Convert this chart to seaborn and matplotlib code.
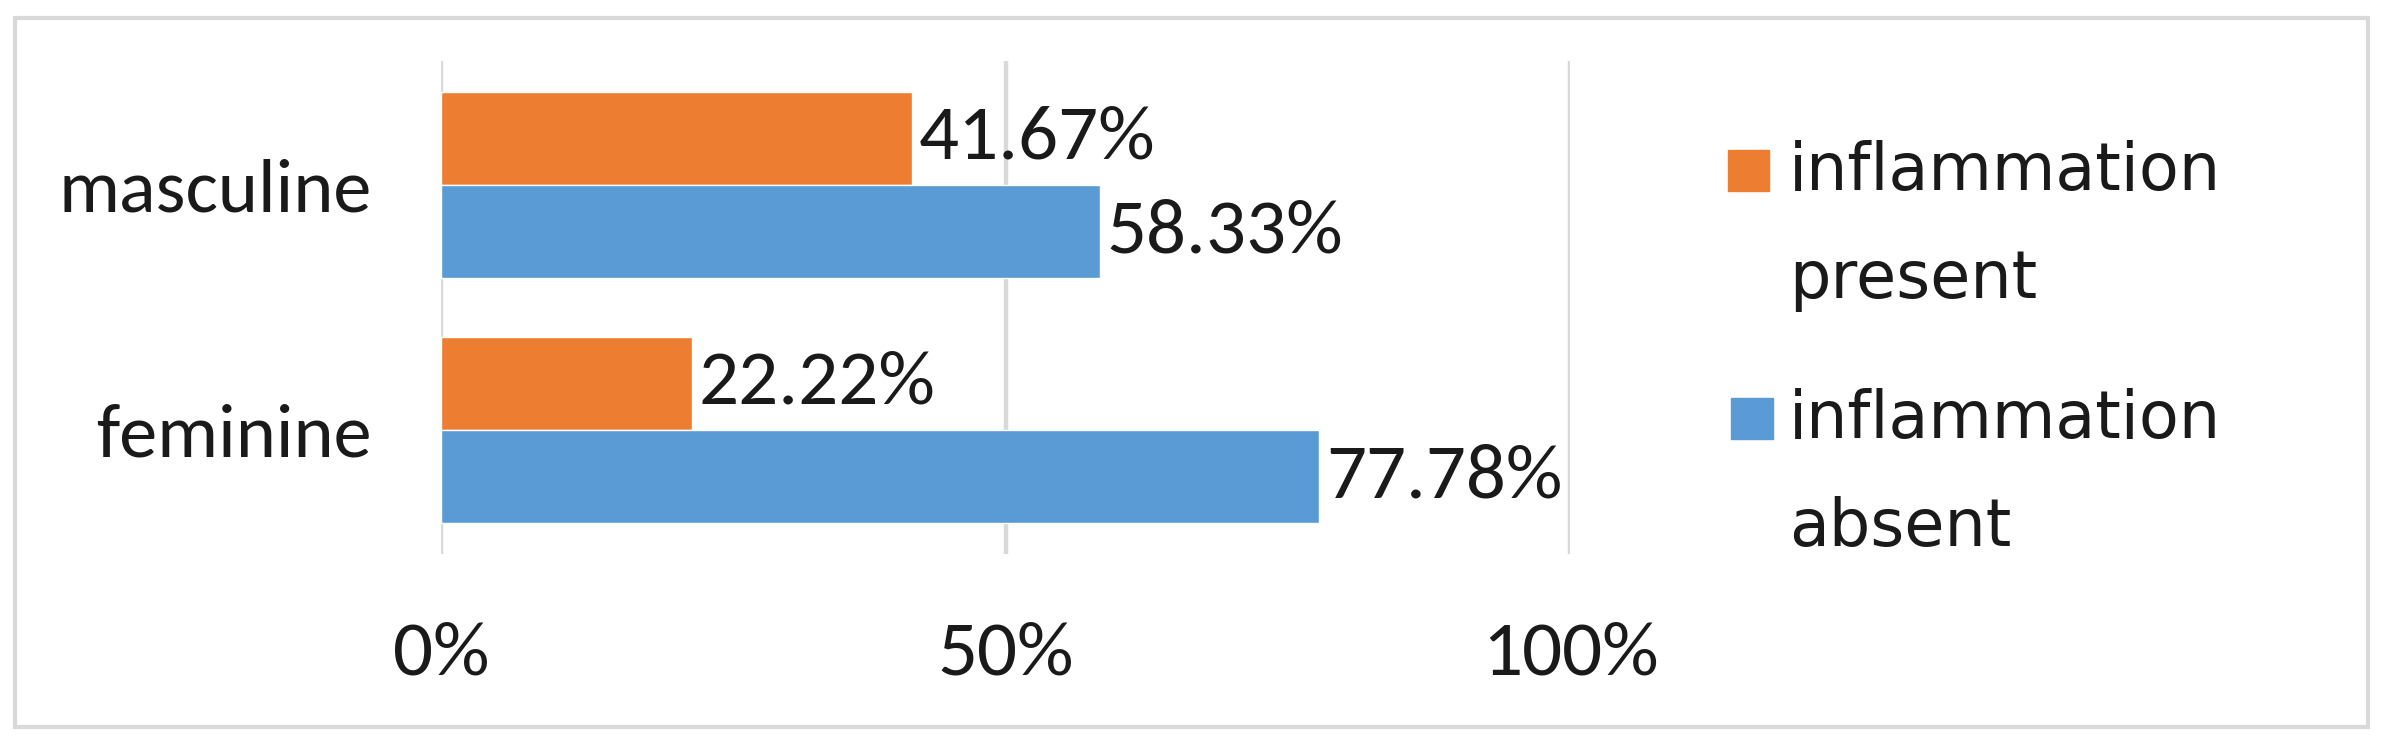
import matplotlib
matplotlib.use("Agg")
import matplotlib.pyplot as plt
import seaborn as sns
import pandas as pd
from matplotlib.patches import Rectangle

# data
genders = ["masculine", "feminine"]
series = ["inflammation present", "inflammation absent"]
present = [41.67, 22.22]
absent = [58.33, 77.78]
ticks = [0, 50, 100]
tick_labels = ["0%", "50%", "100%"]
legend_labels = ["inflammation\npresent", "inflammation\nabsent"]
colors = ["#ED7D31", "#5B9BD5"]

df = pd.DataFrame({
    "gender": genders * 2,
    "status": [series[0]] * len(genders) + [series[1]] * len(genders),
    "pct": present + absent,
})

sns.set_style("white")
plt.rcParams["font.family"] = ["Carlito", "DejaVu Sans"]
txt_color = "#1a1a1a"

fig = plt.figure(figsize=(23.83, 7.45), dpi=100)
ax = fig.add_axes([0.1851, 0.2564, 0.4738, 0.6617])

sns.barplot(data=df, y="gender", x="pct", hue="status", hue_order=series,
            palette=colors, orient="h", width=0.76, saturation=1,
            legend=False, ax=ax)

for cont in ax.containers:
    ax.bar_label(cont, labels=[f"{v:.2f}%" for v in cont.datavalues],
                 padding=5, fontsize=57, color=txt_color)

ax.set_xlim(0, 100)
ax.set_ylim(1.506, -0.506)
ax.set_xticks(ticks)
ax.set_xticklabels(tick_labels)
ax.xaxis.grid(True, color="#D9D9D9", linewidth=3.2)
ax.yaxis.grid(False)
ax.set_axisbelow(True)
ax.tick_params(axis="x", length=0, pad=48, labelsize=57, colors=txt_color)
ax.tick_params(axis="y", length=0, pad=50, labelsize=55, colors=txt_color)
ax.set_xlabel("")
ax.set_ylabel("")
for s in ax.spines.values():
    s.set_visible(False)

# legend drawn by hand so the square sits on the first line
sq_x = [0.7251, 0.7266]
sq_y = [0.7436, 0.4107]
txt_y = [0.8115, 0.4786]
for c, lab, sx, sy, ty in zip(colors, legend_labels, sq_x, sq_y, txt_y):
    fig.patches.append(Rectangle((sx, sy), 0.0174, 0.0557, color=c,
                                 transform=fig.transFigure, figure=fig))
    fig.text(0.7507, ty, lab, fontsize=47, va="top", linespacing=1.875,
             color=txt_color, family=["DejaVu Sans"])

# outer chart border
fig.patches.append(Rectangle((0.0063, 0.0242), 0.9874, 0.9517, fill=False,
                             edgecolor="#D9D9D9", linewidth=3,
                             transform=fig.transFigure, figure=fig))

fig.savefig("out.png", dpi=100)
